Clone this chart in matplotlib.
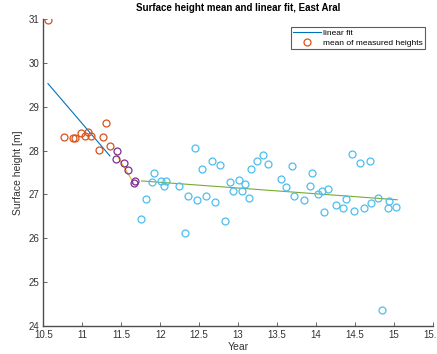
import matplotlib
matplotlib.use("Agg")
import matplotlib.pyplot as plt

plt.rcParams["font.family"] = ["Liberation Sans", "DejaVu Sans"]

# mean of measured heights, early period (orange)
x_early = [10.56, 10.76, 10.885, 10.91, 10.98, 11.03, 11.07, 11.11, 11.22, 11.27, 11.30, 11.35]
y_early = [30.97, 28.31, 28.29, 28.29, 28.41, 28.34, 28.42, 28.34, 28.02, 28.30, 28.63, 28.11]

# transition period (purple)
x_mid = [11.43, 11.45, 11.53, 11.59, 11.66, 11.68]
y_mid = [27.82, 28.00, 27.72, 27.56, 27.26, 27.30]

# late period (cyan)
x_late = [11.76, 11.82, 11.90, 11.92, 12.01, 12.05, 12.07, 12.24, 12.32, 12.36,
          12.44, 12.47, 12.54, 12.59, 12.67, 12.70, 12.77, 12.83, 12.90, 12.93,
          13.01, 13.05, 13.09, 13.14, 13.16, 13.24, 13.32, 13.38, 13.55, 13.61,
          13.69, 13.71, 13.84, 13.92, 13.95, 14.02, 14.07, 14.10, 14.15, 14.25,
          14.34, 14.38, 14.46, 14.48, 14.56, 14.61, 14.69, 14.71, 14.80, 14.84,
          14.92, 14.94, 15.03]
y_late = [26.43, 26.89, 27.28, 27.50, 27.31, 27.20, 27.31, 27.20, 26.13, 26.97,
          28.06, 26.87, 27.58, 26.97, 27.77, 26.83, 27.67, 26.39, 27.28, 27.07,
          27.32, 27.07, 27.25, 26.93, 27.59, 27.77, 27.89, 27.69, 27.36, 27.18,
          27.66, 26.97, 26.87, 27.20, 27.48, 27.00, 27.07, 26.60, 27.12, 26.75,
          26.70, 26.90, 27.92, 26.62, 27.71, 26.70, 27.77, 26.80, 26.93, 24.37,
          26.70, 26.85, 26.72]

# linear fits (end points)
fit_early_x = [10.56, 11.355]
fit_early_y = [29.53, 27.88]
fit_mid_x = [11.436, 11.66]
fit_mid_y = [27.92, 27.26]
fit_late_x = [11.76, 15.04]
fit_late_y = [27.31, 26.88]

fig = plt.figure(figsize=(4.37, 3.54), dpi=100)
ax = fig.add_axes([0.099, 0.079, 0.892, 0.867])

ax.plot(fit_early_x, fit_early_y, color="#0072BD", lw=0.8, label="linear fit")
ax.plot(x_early, y_early, "o", mfc="none", mec="#D95319", ms=5, mew=0.9,
        label="mean of measured heights")
ax.plot(fit_mid_x, fit_mid_y, color="#EDB120", lw=0.8)
ax.plot(x_mid, y_mid, "o", mfc="none", mec="#7E2F8E", ms=5, mew=0.9)
ax.plot(fit_late_x, fit_late_y, color="#77AC30", lw=0.8)
ax.plot(x_late, y_late, "o", mfc="none", mec="#4DBEEE", ms=5, mew=0.9)

ax.set_xlim(10.5, 15.5)
ax.set_ylim(24, 31)
ax.set_xticks([10.5, 11, 11.5, 12, 12.5, 13, 13.5, 14, 14.5, 15, 15.5])
ax.set_xticklabels(["10.5", "11", "11.5", "12", "12.5", "13", "13.5", "14", "14.5", "15", "15.5"])
ax.set_yticks([24, 25, 26, 27, 28, 29, 30, 31])
ax.spines["top"].set_visible(False)
ax.spines["right"].set_visible(False)
for s in ["left", "bottom"]:
    ax.spines[s].set_color("#4d4d4d")
    ax.spines[s].set_linewidth(1.0)
ax.tick_params(direction="in", length=3, width=0.6, color="#4d4d4d",
               labelsize=7, labelcolor="#333333", pad=3)

ax.set_xlabel("Year", fontsize=7.5, color="#333333", labelpad=1)
ax.set_ylabel("Surface height [m]", fontsize=7.5, color="#333333", labelpad=4)
ax.set_title("Surface height mean and linear fit, East Aral", fontsize=7,
             fontweight="bold", pad=6)

leg = ax.legend(loc="upper right", bbox_to_anchor=(0.98, 0.975), fontsize=6,
                frameon=True, fancybox=False, edgecolor="#333333",
                borderpad=0.3, handlelength=3.3, handletextpad=0.3,
                labelspacing=0.2, borderaxespad=0)
leg.get_frame().set_linewidth(0.8)

fig.savefig("out.png", dpi=100)
